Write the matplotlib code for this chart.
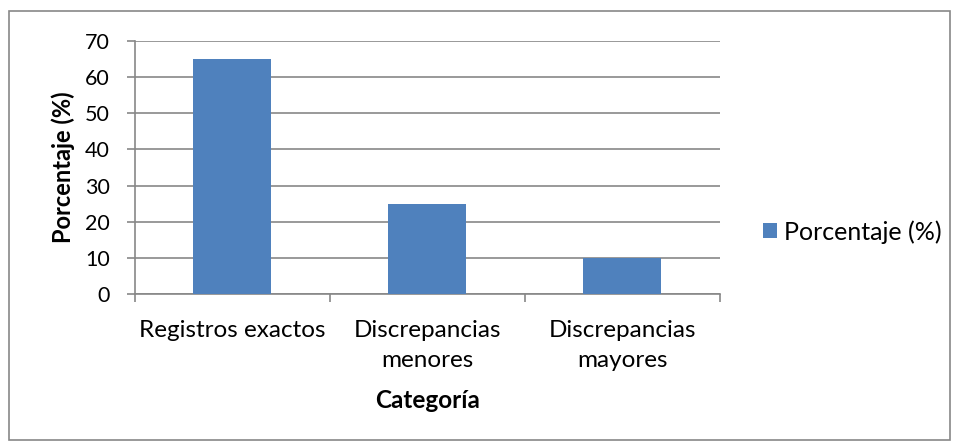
import matplotlib.pyplot as plt
from matplotlib.patches import Rectangle

categories = ["Registros exactos", "Discrepancias\nmenores", "Discrepancias\nmayores"]
porcentaje = [65, 25, 10]
y_ticks = [0, 10, 20, 30, 40, 50, 60, 70]

plt.rcParams['font.family'] = ['Lato', 'DejaVu Sans']

fig = plt.figure(figsize=(9.54, 4.42), dpi=100)
ax = fig.add_axes([135 / 954, 1 - 294 / 442, 585 / 954, 253 / 442])

grid_color = "#878787"
x = range(len(categories))
bars = ax.bar(x, porcentaje, width=0.4, color="#4F81BD", label="Porcentaje (%)", zorder=3)

ax.set_xlim(-0.5, len(categories) - 0.5)
ax.set_ylim(0, 70)
ax.set_yticks(y_ticks)
ax.yaxis.grid(True, color=grid_color, linewidth=1.2, zorder=0)

# category boundaries carry the x ticks, labels sit in between
ax.set_xticks([i - 0.5 for i in range(len(categories) + 1)])
ax.set_xticklabels([])
ax.set_xticks(list(x), minor=True)
ax.set_xticklabels(categories, minor=True, fontsize=17.5, linespacing=1.5)
ax.tick_params(axis="x", which="minor", length=0, pad=19)
ax.tick_params(axis="x", which="major", length=6, width=1.2, color=grid_color)
ax.tick_params(axis="y", length=6, width=1.2, color=grid_color, labelsize=15.5, pad=12)

for side in ["top", "right"]:
    ax.spines[side].set_visible(False)
for side in ["left", "bottom"]:
    ax.spines[side].set_color(grid_color)
    ax.spines[side].set_linewidth(1.2)

ax.set_ylabel("Porcentaje (%)", fontsize=17, fontweight="bold", labelpad=7)
ax.set_xlabel("Categoría", fontsize=17.5, fontweight="bold", labelpad=13)

ax.legend(loc="center left", bbox_to_anchor=(1.035, 0.245), frameon=False,
          fontsize=18, handlelength=0.55, handleheight=0.55, handletextpad=0.3)

# outer chart border
fig.patches.append(Rectangle((9 / 954, 2 / 442), 941 / 954, 429 / 442,
                             transform=fig.transFigure, fill=False,
                             edgecolor="#878787", linewidth=1.2))

fig.savefig("out.png", dpi=100)
